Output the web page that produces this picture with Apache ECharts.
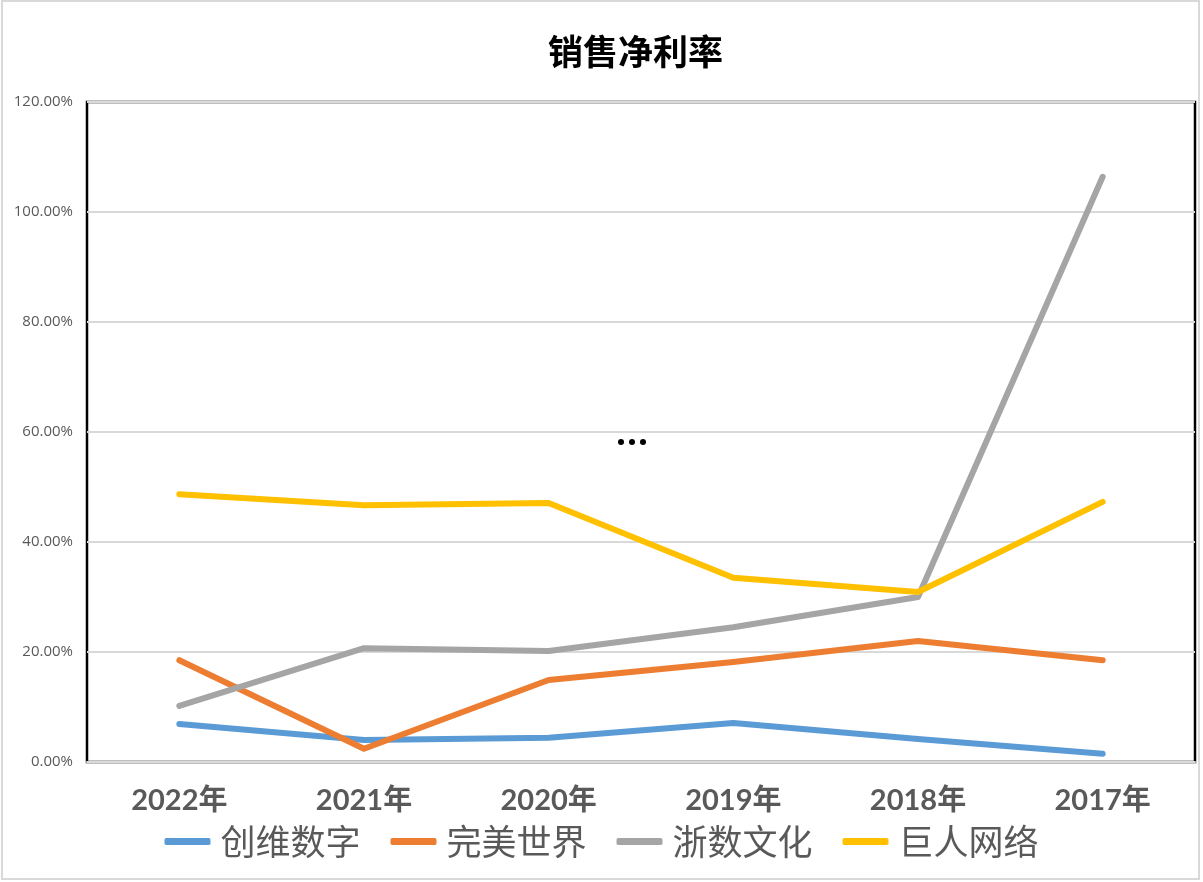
<!DOCTYPE html>
<html>
<head>
<meta charset="utf-8">
<script src="https://cdn.jsdelivr.net/npm/echarts@6/dist/echarts.min.js"></script>
<style>html,body{margin:0;padding:0;background:#fff}#c{width:1203px;height:882px}</style>
</head>
<body>
<div id="c"></div>
<script>
var categories = ['2022年','2021年','2020年','2019年','2018年','2017年'];
var names = ['创维数字','完美世界','浙数文化','巨人网络'];
var chuangwei = [6.9, 4.0, 4.4, 7.1, 4.2, 1.5];
var wanmei = [18.5, 2.4, 14.9, 18.2, 22.0, 18.5];
var zheshu = [10.2, 20.7, 20.2, 24.5, 30.0, 106.4];
var juren = [48.7, 46.7, 47.1, 33.5, 30.9, 47.3];
var colors = ['#5B9BD5','#ED7D31','#A5A5A5','#FFC000'];
var yTicks = [0, 20, 40, 60, 80, 100, 120];

var chart = echarts.init(document.getElementById('c'));
function mk(name, data, color) {
  return {
    name: name, type: 'line', data: data, symbol: 'none', smooth: false,
    lineStyle: { color: color, width: 6, cap: 'round', join: 'round' },
    itemStyle: { color: color }
  };
}
chart.setOption({
  backgroundColor: '#fff',
  animation: false,
  color: colors,
  title: {
    text: '销售净利率', left: 543, top: 29,
    textStyle: { fontFamily: "'Noto Sans CJK SC'", fontSize: 35, fontWeight: 'bold', color: '#000' }
  },
  legend: {
    bottom: 18, left: 'center', itemWidth: 46, itemHeight: 7, itemGap: 30,
    icon: 'roundRect',
    textStyle: { fontFamily: "'Noto Sans CJK SC'", fontSize: 35, color: '#595959', padding: [0, 0, 0, 5] },
    data: names
  },
  grid: { left: 87, right: 8, top: 102, bottom: 120, show: true, borderColor: '#000', borderWidth: 2.5, backgroundColor: '#fff' },
  xAxis: {
    type: 'category', data: categories, boundaryGap: true,
    axisLine: { lineStyle: { color: '#d9d9d9', width: 2 } },
    axisTick: { show: false },
    axisLabel: { margin: 24, fontFamily: "Lato, 'Noto Sans CJK SC'", fontSize: 29, fontWeight: 'bold', color: '#595959' }
  },
  yAxis: {
    type: 'value', min: yTicks[0], max: yTicks[yTicks.length - 1], interval: 20,
    axisLine: { show: false }, axisTick: { show: false },
    splitLine: { lineStyle: { color: '#d9d9d9', width: 2 } },
    axisLabel: { margin: 14, fontFamily: "'Open Sans', 'Liberation Sans'", fontSize: 15, color: '#595959',
      formatter: function (v) { return v.toFixed(2) + '%'; } }
  },
  graphic: [
    { type: 'rect', shape: { x: 2, y: 1, width: 1197, height: 878 }, style: { fill: 'none', stroke: '#d9d9d9', lineWidth: 2 }, z: -1 },
    { type: 'circle', shape: { cx: 621, cy: 442, r: 3 }, style: { fill: '#000' } },
    { type: 'circle', shape: { cx: 632, cy: 442, r: 3 }, style: { fill: '#000' } },
    { type: 'circle', shape: { cx: 643, cy: 442, r: 3 }, style: { fill: '#000' } }
  ],
  series: [
    mk(names[0], chuangwei, colors[0]),
    mk(names[1], wanmei, colors[1]),
    mk(names[2], zheshu, colors[2]),
    mk(names[3], juren, colors[3])
  ]
});
</script>
</body>
</html>
